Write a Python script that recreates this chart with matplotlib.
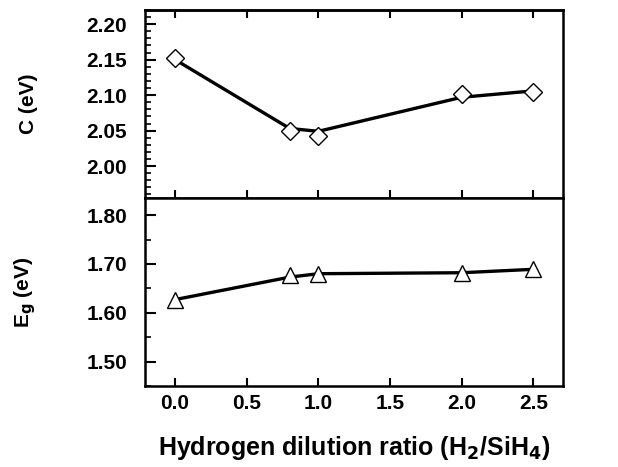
import numpy as np
import matplotlib.pyplot as plt
from matplotlib.ticker import MultipleLocator

# Data
h_ratio = [0.0, 0.8, 1.0, 2.0, 2.5]
c_vals = [2.153, 2.050, 2.042, 2.101, 2.105]
c_fit = [2.150, 2.053, 2.049, 2.097, 2.106]
eg_vals = [1.627, 1.677, 1.680, 1.681, 1.690]
eg_fit = [1.627, 1.673, 1.680, 1.682, 1.689]

x_ticks = [0.0, 0.5, 1.0, 1.5, 2.0, 2.5]
c_ticks = [2.00, 2.05, 2.10, 2.15, 2.20]
eg_ticks = [1.50, 1.60, 1.70, 1.80]

plt.rcParams['font.family'] = ['Liberation Sans', 'DejaVu Sans']
plt.rcParams['font.weight'] = 'bold'
plt.rcParams['mathtext.default'] = 'bf'

fig = plt.figure(figsize=(6.18, 4.67), dpi=100)
left, right = 0.2346, 0.911
mid, top, bot = 0.576, 0.9786, 0.1734
ax1 = fig.add_axes([left, mid, right - left, top - mid])
ax2 = fig.add_axes([left, bot, right - left, mid - bot], sharex=ax1)

# --- top panel: C ---
ax1.plot(h_ratio, c_fit, color='black', lw=2.4, zorder=2)
ax1.plot(h_ratio, c_vals, ls='none', marker='D', ms=9, mfc='white',
         mec='black', mew=1.0, zorder=3)
ax1.set_ylim(1.955, 2.22)
ax1.set_yticks(c_ticks)
ax1.set_yticklabels([f'{v:.2f}' for v in c_ticks])
ax1.yaxis.set_minor_locator(MultipleLocator(0.01))
ax1.set_ylabel('C (eV)', fontsize=15, fontweight='bold')

# --- bottom panel: Eg ---
ax2.plot(h_ratio, eg_fit, color='black', lw=2.4, zorder=2)
ax2.plot(h_ratio, eg_vals, ls='none', marker='^', ms=11, mfc='white',
         mec='black', mew=1.0, zorder=3)
ax2.set_ylim(1.45, 1.835)
ax2.set_yticks(eg_ticks)
ax2.set_yticklabels([f'{v:.2f}' for v in eg_ticks])
ax2.yaxis.set_minor_locator(MultipleLocator(0.05))
ax2.set_ylabel('E$_g$ (eV)', fontsize=15, fontweight='bold')

ax2.set_xlim(-0.21, 2.707)
ax2.set_xticks(x_ticks)
ax2.set_xticklabels([f'{v:.1f}' for v in x_ticks])
ax2.set_xlabel('Hydrogen dilution ratio (H$_2$/SiH$_4$)', fontsize=18,
               fontweight='bold', labelpad=15)

for ax in (ax1, ax2):
    for s in ax.spines.values():
        s.set_linewidth(1.8)
    ax.tick_params(axis='y', which='major', direction='in', length=8,
                   width=1.5, labelsize=15, pad=13, right=False)
    ax.tick_params(axis='y', which='minor', direction='in', length=4,
                   width=1.2, right=False)

# shared middle line: ticks cross it
ax1.tick_params(axis='x', which='major', direction='inout', length=11,
                width=1.5, top=False, bottom=True, labelbottom=False)
# top edge: inward ticks only
top_ax = ax1.secondary_xaxis('top')
top_ax.set_xticks(x_ticks)
top_ax.tick_params(axis='x', direction='in', length=6, width=1.5,
                   labeltop=False)
top_ax.spines['top'].set_linewidth(1.8)

ax2.tick_params(axis='x', which='major', direction='in', length=6,
                width=1.5, top=False, labelsize=15, pad=6)

ax1.yaxis.set_label_coords(-0.255, 0.5)
ax2.yaxis.set_label_coords(-0.255, 0.5)

fig.savefig('out.png', dpi=100)
